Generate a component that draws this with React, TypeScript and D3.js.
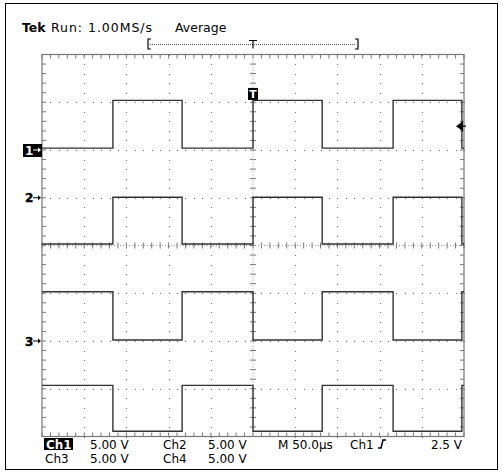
import React from "react";
import * as d3 from "d3";

// time of each edge, in horizontal divisions (50 us/div)
const edgeDivs = [1.68, 3.32, 5.0, 6.64, 8.32, 9.95];

// per channel: ground marker (div), 5 V/div, levels in volts
const channelNames = ["Ch1", "Ch2", "Ch3", "Ch4"];
const groundDivs = [2, 1, -2, -2];
const voltsPerDiv = [5, 5, 5, 5];
const highVolts = [5.2, 0.05, 5.15, -4.65];
const lowVolts = [0.2, -4.85, 0.1, -9.45];
const startsHigh = [false, false, true, true];

const triggerVolts = 2.5;
const topText = ["Run: 1.00MS/s", "Average"];
const readoutRow1 = ["5.00 V", "Ch2", "5.00 V", "M 50.0\u00b5s", "Ch1", "2.5 V"];
const readoutRow2 = ["Ch3", "5.00 V", "Ch4", "5.00 V"];

const W = 503;
const H = 473;
const FONT = "DejaVu Sans, Verdana, sans-serif";

export default function App() {
  const x = d3.scaleLinear().domain([0, 10]).range([42, 464]);
  const y = d3.scaleLinear().domain([-4, 4]).range([436.5, 54.5]);

  const minorX = d3.range(0, 50.001, 1).map((i) => i / 5);
  const minorY = d3.range(0, 40.001, 1).map((i) => -4 + i / 5);

  // dotted graticule
  const dots: JSX.Element[] = [];
  d3.range(1, 10).forEach((i) => {
    if (i === 5) return;
    minorY.forEach((v, j) =>
      dots.push(<rect key={`v${i}-${j}`} x={Math.round(x(i))} y={Math.round(y(v))} width={1} height={1} fill="#777" />)
    );
  });
  d3.range(-3, 4).forEach((k) => {
    if (k === 0) return;
    minorX.forEach((t, j) =>
      dots.push(<rect key={`h${k}-${j}`} x={Math.round(x(t))} y={Math.round(y(k))} width={1} height={1} fill="#777" />)
    );
  });

  const wave = d3
    .line<[number, number]>()
    .x((d) => x(d[0]))
    .y((d) => d[1])
    .curve(d3.curveStepAfter);

  const traces = channelNames.map((name, c) => {
    const lv = (hi: boolean) => y(groundDivs[c] + (hi ? highVolts[c] : lowVolts[c]) / voltsPerDiv[c]);
    let level = startsHigh[c];
    const pts: [number, number][] = [[0, lv(level)]];
    edgeDivs.forEach((t) => {
      level = !level;
      pts.push([t, lv(level)]);
    });
    pts.push([10, lv(level)]);
    return <path key={name} d={wave(pts) || ""} fill="none" stroke="#333" strokeWidth={1.4} />;
  });

  const cx = x(5);
  const cy = y(0);
  const trigY = y(groundDivs[0] + triggerVolts / voltsPerDiv[0]);

  const marker = (label: string, div: number, boxed: boolean, key: string) => {
    const my = y(div);
    const col = boxed ? "#fff" : "#000";
    return (
      <g key={key}>
        {boxed && <rect x={23} y={my - 6} width={19} height={13} fill="#000" />}
        <text
          x={25}
          y={my + 4.5}
          fontSize={12}
          fontWeight="bold"
          fill={col}
          stroke={boxed ? "none" : col}
          strokeWidth={0.4}
          fontFamily={FONT}
        >
          {label}
        </text>
        <line x1={33} x2={40} y1={my} y2={my} stroke={col} strokeWidth={1} />
        <path d={`M41,${my} l-3,-2.5 v5 z`} fill={col} />
      </g>
    );
  };

  return (
    <div style={{ position: "absolute", left: 0, top: 0 }}>
      <svg width={W} height={H} style={{ display: "block", background: "#fff" }}>
        <rect x={5.5} y={3.5} width={492} height={466} fill="none" stroke="#000" strokeWidth={1} />

        {/* header */}
        <text x={22} y={32} fontSize={12.5} fontFamily={FONT} fill="#000" fontWeight="bold">
          Tek
        </text>
        <text x={51} y={32} fontSize={12.5} fontFamily={FONT} fill="#000" textLength={101} lengthAdjust="spacing">
          {topText[0]}
        </text>
        <text x={175} y={32} fontSize={12.5} fontFamily={FONT} fill="#000">
          {topText[1]}
        </text>

        {/* record bracket */}
        <path d="M151,39 h-3 v10 h3" fill="none" stroke="#000" strokeWidth={1.2} />
        <path d="M355,39 h3 v10 h-3" fill="none" stroke="#000" strokeWidth={1.2} />
        <line x1={150} x2={356} y1={44.5} y2={44.5} stroke="#555" strokeDasharray="1,1" />
        <path d={`M${cx - 4},40.5 h8 M${cx},40.5 v8`} stroke="#000" strokeWidth={1.2} fill="none" />

        {/* graticule */}
        <g>{dots}</g>
        <rect x={x(0)} y={y(4)} width={x(10) - x(0)} height={y(-4) - y(4)} fill="none" stroke="#777" strokeWidth={1.2} />
        {minorX.map((t, i) => (
          <g key={`bt${i}`} stroke="#777" strokeWidth={1}>
            <line x1={x(t)} x2={x(t)} y1={y(4)} y2={y(4) + 4} />
            <line x1={x(t)} x2={x(t)} y1={y(-4)} y2={y(-4) - 4} />
            <line x1={x(t)} x2={x(t)} y1={cy - 3} y2={cy + 3} />
          </g>
        ))}
        {minorY.map((v, i) => (
          <g key={`lt${i}`} stroke="#777" strokeWidth={1}>
            <line x1={x(0)} x2={x(0) + 4} y1={y(v)} y2={y(v)} />
            <line x1={x(10)} x2={x(10) - 4} y1={y(v)} y2={y(v)} />
            <line x1={cx - 3} x2={cx + 3} y1={y(v)} y2={y(v)} />
          </g>
        ))}
        <line x1={x(0)} x2={x(10)} y1={cy} y2={cy} stroke="#999" strokeDasharray="1,2" />
        <line x1={cx} x2={cx} y1={y(4)} y2={y(-4)} stroke="#999" strokeDasharray="1,2" />

        {/* waveforms */}
        {traces}

        {/* trigger position */}
        <rect x={cx - 5} y={y(3.3)} width={10} height={12} fill="#000" />
        <text x={cx} y={y(3.3) + 10.5} fontSize={11} fontWeight="bold" textAnchor="middle" fill="#fff" fontFamily={FONT}>
          T
        </text>

        {/* trigger level */}
        <path d={`M456,${trigY} l7,-5 v10 z`} fill="#000" />
        <line x1={460} x2={466} y1={trigY} y2={trigY} stroke="#000" strokeWidth={1.2} />

        {/* ground markers (Ch4 sits under Ch3) */}
        {marker("1", groundDivs[0], true, "m1")}
        {marker("2", groundDivs[1], false, "m2")}
        {marker("3", groundDivs[2], false, "m3")}

        {/* readout */}
        <rect x={44} y={438} width={29} height={12} fill="#000" />
        <g fontSize={12} fontFamily={FONT} fill="#000">
          <text x={46} y={449} fill="#fff" fontWeight="bold">
            {channelNames[0]}
          </text>
          <text x={90} y={449}>{readoutRow1[0]}</text>
          <text x={163} y={449}>{readoutRow1[1]}</text>
          <text x={208} y={449}>{readoutRow1[2]}</text>
          <text x={278} y={449}>{readoutRow1[3]}</text>
          <text x={350} y={449}>{readoutRow1[4]}</text>
          <text x={462} y={449} textAnchor="end">
            {readoutRow1[5]}
          </text>
          <text x={45} y={463}>{readoutRow2[0]}</text>
          <text x={90} y={463}>{readoutRow2[1]}</text>
          <text x={163} y={463}>{readoutRow2[2]}</text>
          <text x={208} y={463}>{readoutRow2[3]}</text>
        </g>
        <path d="M378,448 h3 l2,-8 h3" fill="none" stroke="#000" strokeWidth={1.5} />
      </svg>
    </div>
  );
}
